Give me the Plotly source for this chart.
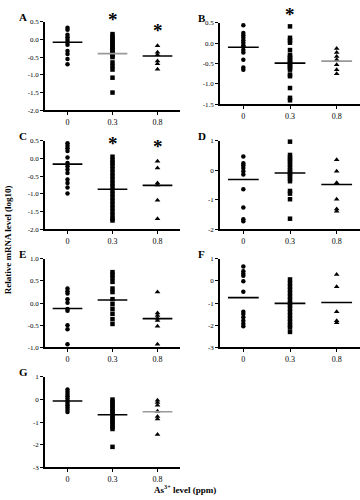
import plotly.graph_objects as go

groups = ["0", "0.3", "0.8"]

A0 = [0.33, 0.27, 0.13, 0.06, -0.01, -0.08, -0.15, -0.33, -0.41, -0.55, -0.70]
A1 = [0.15, 0.08, 0.02, -0.05, -0.10, -0.15, -0.20, -0.25, -0.30, -0.35, -0.40, -0.45, -0.50, -0.65, -0.75, -0.85, -1.08, -1.50]
A2 = [-0.18, -0.36, -0.43, -0.61, -0.69, -0.84]
A_mean = [-0.08, -0.40, -0.47]

B0 = [0.44, 0.25, 0.19, 0.13, 0.07, 0.01, -0.05, -0.09, -0.17, -0.23, -0.41, -0.60, -0.65]
B1 = [0.41, 0.13, 0.07, 0.01, -0.17, -0.29, -0.33, -0.37, -0.41, -0.45, -0.49, -0.53, -0.57, -0.61, -0.65, -0.77, -0.81, -1.10, -1.34, -1.40]
B2 = [-0.13, -0.23, -0.33, -0.41, -0.53, -0.65, -0.75]
B_mean = [-0.10, -0.49, -0.44]

C0 = [0.43, 0.36, 0.29, 0.21, 0.03, -0.13, -0.22, -0.31, -0.41, -0.59, -0.69, -0.82, -0.99]
C1 = [0.05, -0.05, -0.12, -0.20, -0.30, -0.40, -0.50, -0.60, -0.70, -0.80, -0.90, -1.00, -1.10, -1.20, -1.30, -1.40, -1.50, -1.60, -1.70, -1.75]
C2 = [-0.08, -0.27, -0.69, -0.75, -1.18, -1.70]
C_mean = [-0.16, -0.87, -0.76]

D0 = [0.47, 0.24, 0.17, 0.08, -0.03, -0.14, -0.64, -1.26, -1.66, -1.73]
D1 = [0.97, 0.52, 0.43, 0.36, 0.28, 0.19, 0.10, 0.01, -0.06, -0.12, -0.20, -0.28, -0.37, -0.70, -0.79, -0.98, -1.64]
D2 = [0.36, -0.03, -0.42, -0.98, -1.31, -1.39]
D_mean = [-0.31, -0.09, -0.48]

E0 = [0.33, 0.27, 0.22, 0.09, 0.01, -0.13, -0.17, -0.50, -0.59, -0.93]
E1 = [0.70, 0.64, 0.57, 0.48, 0.33, 0.25, 0.09, -0.02, -0.13, -0.24, -0.36, -0.47]
E2 = [0.25, -0.22, -0.28, -0.34, -0.39, -0.52, -0.93]
E_mean = [-0.12, 0.07, -0.35]

F0 = [0.66, 0.44, 0.33, 0.24, -0.01, -0.48, -1.39, -1.49, -1.64, -1.79, -1.93, -2.04]
F1 = [0.07, -0.10, -0.25, -0.40, -0.55, -0.70, -0.85, -1.00, -1.10, -1.25, -1.40, -1.55, -1.70, -1.85, -2.00, -2.10, -2.30]
F2 = [0.29, -0.26, -1.39, -1.79, -1.89]
F_mean = [-0.75, -1.01, -0.97]

G0 = [0.45, 0.35, 0.25, 0.15, 0.05, -0.05, -0.15, -0.25, -0.35, -0.45, -0.55]
G1 = [0.00, -0.10, -0.20, -0.30, -0.40, -0.50, -0.60, -0.70, -0.80, -0.90, -1.00, -1.10, -1.20, -1.30, -2.09]
G2 = [-0.03, -0.13, -0.25, -0.52, -0.75, -0.86, -1.54]
G_mean = [-0.06, -0.67, -0.54]

A_ticks = [0.5, 0.0, -0.5, -1.0, -1.5, -2.0]
B_ticks = [0.5, 0.0, -0.5, -1.0, -1.5]
D_ticks = [1, 0, -1, -2]
E_ticks = [1.0, 0.5, 0.0, -0.5, -1.0]
F_ticks = [1, 0, -1, -2, -3]

# (label, data, means, mean colours, y range, ticks, tick format, column, row-top px, row-bottom px, stars[(group, domain-y)])
panels = [
    ("A", [A0, A1, A2], A_mean, ["black", "#999999", "black"], [-2.0, 0.5], A_ticks, ".1f", 0, 18, 108, [(1, 1.022), (2, 0.9)]),
    ("B", [B0, B1, B2], B_mean, ["black", "black", "#999999"], [-1.5, 0.5], B_ticks, ".1f", 1, 19, 102, [(1, 1.10)]),
    ("C", [C0, C1, C2], C_mean, ["black", "black", "black"], [-2.0, 0.5], A_ticks, ".1f", 0, 139, 229, [(1, 0.967), (2, 0.933)]),
    ("D", [D0, D1, D2], D_mean, ["black", "black", "black"], [-2, 1], D_ticks, "d", 1, 139, 229, []),
    ("E", [E0, E1, E2], E_mean, ["black", "black", "black"], [-1.0, 1.0], E_ticks, ".1f", 0, 259, 349, []),
    ("F", [F0, F1, F2], F_mean, ["black", "black", "black"], [-3, 1], F_ticks, "d", 1, 259, 349, []),
    ("G", [G0, G1, G2], G_mean, ["black", "black", "#999999"], [-3, 1], F_ticks, "d", 0, 379, 471, []),
]

symbols = ["circle", "square", "triangle-up"]
W, H = 360, 500
fig = go.Figure()
layout = {}
annotations = []
font_fam = "Liberation Serif"

for k, (lab, data, means, mcols, yr, ticks, fmt, col, top, bot, stars) in enumerate(panels):
    n = "" if k == 0 else str(k + 1)
    xa, ya = "x" + n, "y" + n
    if col == 0:
        xd = [45 / W, 180 / W]
    else:
        xd = [220 / W, 1.0]
    yd = [1 - bot / H, 1 - top / H]
    for g in range(3):
        fig.add_trace(go.Scatter(
            x=[g] * len(data[g]), y=data[g], mode="markers", xaxis=xa, yaxis=ya,
            marker=dict(symbol=symbols[g], size=4.5 if g < 2 else 5, color="black", line=dict(width=0)),
            showlegend=False, cliponaxis=False))
    for g in range(3):
        fig.add_trace(go.Scatter(
            x=[g - 0.33, g + 0.33], y=[means[g], means[g]], mode="lines", xaxis=xa, yaxis=ya,
            line=dict(color=mcols[g], width=1.6), showlegend=False, hoverinfo="skip"))
    if fmt == "d":
        ttext = [str(int(t)) for t in ticks]
    else:
        ttext = [f"{t:.1f}" for t in ticks]
    layout["xaxis" + n] = dict(
        domain=xd, range=[-0.5, 2.5], anchor=ya, tickmode="array", tickvals=[0, 1, 2],
        ticktext=groups, ticks="outside", ticklen=3, tickwidth=1, tickcolor="black",
        showline=True, linecolor="black", linewidth=1.5, showgrid=False, zeroline=False,
        tickfont=dict(family=font_fam, size=8, color="#000000"), fixedrange=True)
    layout["yaxis" + n] = dict(
        domain=yd, range=yr, anchor=xa, tickmode="array", tickvals=ticks, ticktext=ttext,
        ticks="outside", ticklen=3, tickwidth=1, tickcolor="black",
        showline=True, linecolor="black", linewidth=1.5, showgrid=False, zeroline=False,
        tickfont=dict(family=font_fam, size=7, color="#000000"), fixedrange=True)
    lx = 17 / W if col == 0 else 196 / W
    annotations.append(dict(text="<b>" + lab + "</b>", x=lx, y=1 - (top - 5) / H, xref="paper", yref="paper",
                            xanchor="left", yanchor="middle", showarrow=False,
                            font=dict(family=font_fam, size=11, color="black")))
    for (gx, gy) in stars:
        annotations.append(dict(text="<b>*</b>", x=gx, y=gy, xref=xa, yref=ya + " domain", showarrow=False,
                                xanchor="center", yanchor="middle",
                                font=dict(family=font_fam, size=19, color="black")))

annotations.append(dict(text="<b>Relative mRNA level (log10)</b>", x=8 / W, y=1 - 240 / H, xref="paper", yref="paper",
                        textangle=-90, showarrow=False, xanchor="center", yanchor="middle",
                        font=dict(family=font_fam, size=9, color="black")))
annotations.append(dict(text="<b>As<sup>3+</sup> level (ppm)</b>", x=185 / W, y=1 - 492.5 / H, xref="paper", yref="paper",
                        showarrow=False, xanchor="center", yanchor="middle",
                        font=dict(family=font_fam, size=9, color="black")))

fig.update_layout(width=W, height=H, margin=dict(l=0, r=0, t=0, b=0), paper_bgcolor="white",
                  plot_bgcolor="white", annotations=annotations, **layout)
fig.write_html("out.html", config={"displayModeBar": False},
               post_script="document.body.style.margin='0';")
